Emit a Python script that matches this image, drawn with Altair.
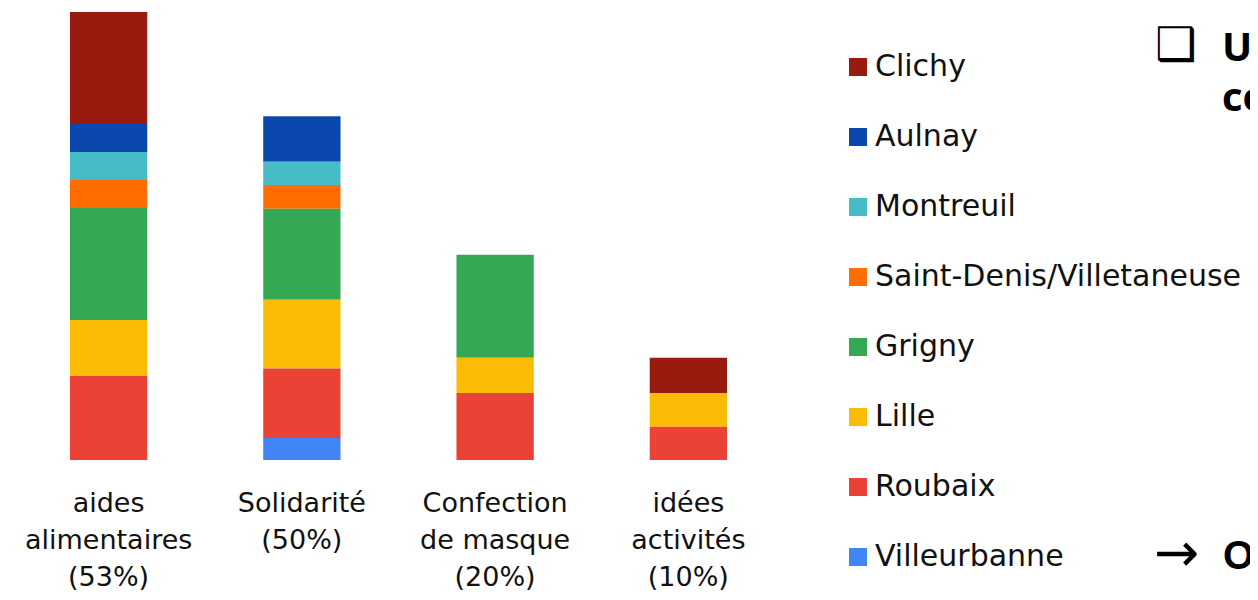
import altair as alt
import pandas as pd

# ---- data ----
categories = [
    "aides\nalimentaires\n(53%)",
    "Solidarité\n(50%)",
    "Confection\nde masque\n(20%)",
    "idées\nactivités\n(10%)",
]
cities = ["Clichy", "Aulnay", "Montreuil", "Saint-Denis/Villetaneuse",
          "Grigny", "Lille", "Roubaix", "Villeurbanne"]
city_colors = ["#991B10", "#0B48AE", "#46BCC6", "#FF6D00",
               "#34A853", "#FBBC04", "#EA4335", "#4285F4"]

clichy       = [4.0, 0.0,  0.0,  1.26]
aulnay       = [1.0, 1.63, 0.0,  0.0]
montreuil    = [1.0, 0.83, 0.0,  0.0]
saint_denis  = [1.0, 0.85, 0.0,  0.0]
grigny       = [4.0, 3.25, 3.68, 0.0]
lille        = [2.0, 2.45, 1.26, 1.2]
roubaix      = [3.0, 2.48, 2.39, 1.19]
villeurbanne = [0.0, 0.79, 0.0,  0.0]

series = [clichy, aulnay, montreuil, saint_denis, grigny, lille, roubaix, villeurbanne]

rows = []
for ci, (city, vals) in enumerate(zip(cities, series)):
    for cat, v in zip(categories, vals):
        if v > 0:
            rows.append({"cat": cat, "city": city, "value": v,
                         "rank": len(cities) - ci})
df = pd.DataFrame(rows)

FONT = "DejaVu Sans"

bars = alt.Chart(df).mark_bar().encode(
    x=alt.X("cat:N", sort=categories, title=None,
            scale=alt.Scale(paddingInner=0.6, paddingOuter=0.3),
            axis=alt.Axis(labelAngle=0, domain=False, ticks=False,
                          labelFont=FONT, labelFontSize=27, labelColor="#111111",
                          labelPadding=30, labelLineHeight=37,
                          labelExpr="split(datum.label, '\\n')",
                          labelLimit=400)),
    y=alt.Y("value:Q", stack="zero", title=None,
            scale=alt.Scale(domain=[0, 16], nice=False),
            axis=None),
    color=alt.Color("city:N",
                    scale=alt.Scale(domain=cities, range=city_colors),
                    legend=alt.Legend(orient="none", legendX=831, legendY=40,
                                      title=None, symbolType="square",
                                      symbolSize=324, symbolStrokeWidth=0,
                                      labelFont=FONT, labelFontSize=30,
                                      labelColor="#111111", labelOffset=2,
                                      rowPadding=40, padding=0, labelLimit=600)),
    order=alt.Order("rank:Q", sort="ascending"),
)

def frag(text, x, y, size, font, weight="normal", align="left"):
    return alt.Chart(pd.DataFrame({"t": [text]})).mark_text(
        font=font, fontSize=size, fontWeight=weight, align=align,
        baseline="alphabetic", color="#000000"
    ).encode(text="t:N", x=alt.value(x), y=alt.value(y))

frags = [
    frag("❑", 1143, 48, 46, FONT),
    frag("U", 1210, 49, 40, "Open Sans", "bold"),
    frag("co", 1210, 99, 40, "Open Sans", "bold"),
    frag("→", 1142, 559, 54, FONT),
    frag("O", 1211, 557, 40, "Liberation Sans", "bold"),
]

chart = alt.layer(bars, *frags).properties(
    width=773, height=448,
    autosize=alt.AutoSizeParams(type="none"),
    padding={"left": 4, "top": 4, "right": 465, "bottom": 132},
).configure(background="white").configure_view(strokeWidth=0)

chart.save("out.html", embed_options={"renderer": "svg", "actions": False})
